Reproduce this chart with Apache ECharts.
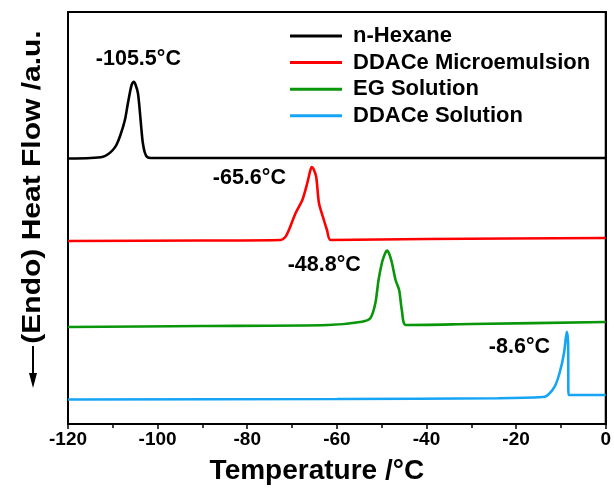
<!DOCTYPE html>
<html>
<head>
<meta charset="utf-8">
<script src="https://cdn.jsdelivr.net/npm/echarts@6/dist/echarts.min.js"></script>
<style>
html,body{margin:0;padding:0;background:#fff;}
#chart{width:614px;height:492px;}
</style>
</head>
<body>
<div id="chart"></div>
<script>
// ---- data (temperature °C, heat flow a.u.) ----
var seriesNames = ['n-Hexane', 'DDACe Microemulsion', 'EG Solution', 'DDACe Solution'];
var peakLabels = ['-105.5°C', '-65.6°C', '-48.8°C', '-8.6°C'];

var hexaneT = [-120, -115, -112.2, -111, -110, -109.2, -108.3, -107.3, -106.7, -106.2, -105.8, -105.3, -104.9, -104.4, -104.1, -103.8, -103.5, -103.3, -102.9, -102.4, -101.5, -80, -40, 0];
var hexaneH = [265.5, 266, 267.3, 270, 274, 279, 289, 304, 319, 331, 339, 342.3, 339, 331, 319, 304, 289, 281, 272, 267.3, 266, 266, 266, 266];

var microT = [-120, -90, -72.5, -71.5, -70.7, -69.2, -67.7, -66.6, -65.9, -65.6, -65.2, -64.6, -64.0, -62.9, -62.2, -61.4, -40, 0];
var microH = [183, 183.5, 184, 187, 194, 211, 224, 241, 254, 257, 255, 247, 221, 204, 194, 184, 185, 186];

var egT = [-120, -90, -62, -54.4, -52.5, -51.4, -50.7, -49.9, -49.2, -48.8, -48.3, -47.7, -46.9, -46.1, -45.5, -44.6, -30, 0];
var egH = [97, 98, 99, 102.3, 106, 121, 144, 162, 171, 173.5, 170, 161, 144, 134, 114, 99, 100, 102];

var ddaceT = [-120, -60, -24, -14, -12.9, -11.4, -10.3, -9.3, -8.7, -8.4, -8.3, -6, 0];
var ddaceH = [24.5, 25, 25.7, 27, 29, 37.3, 51, 71, 92.3, 81, 29, 29, 29];

var tickValues = [-120, -100, -80, -60, -40, -20, 0];

// ---- style ----
var colors = ['#000000', '#ff0000', '#0a960a', '#16a4f5'];
var labelOffsets = [[4.5, -22.7], [-62.4, 11], [-62.8, 14.5], [-47.3, 15.8]];
var FONT = '"Liberation Sans", Arial, sans-serif';

function pairs(t, h) { return t.map(function (v, i) { return [v, h[i]]; }); }
function peakOf(t, h) {
  var k = 0;
  for (var i = 1; i < h.length; i++) if (h[i] > h[k]) k = i;
  return [t[k], h[k]];
}

var allT = [hexaneT, microT, egT, ddaceT];
var allH = [hexaneH, microH, egH, ddaceH];

var series = seriesNames.map(function (name, i) {
  return {
    name: name,
    type: 'line',
    data: pairs(allT[i], allH[i]),
    showSymbol: false,
    symbol: 'none',
    smooth: 0.25,
    lineStyle: { width: 2.6, color: colors[i] },
    itemStyle: { color: colors[i] },
    animation: false,
    markPoint: {
      symbol: 'circle',
      symbolSize: 1,
      itemStyle: { color: 'rgba(0,0,0,0)' },
      label: {
        show: true,
        position: 'inside',
        offset: labelOffsets[i],
        formatter: peakLabels[i],
        color: '#000',
        fontFamily: FONT,
        fontWeight: 'bold',
        fontSize: 21.5
      },
      data: [{ coord: peakOf(allT[i], allH[i]) }]
    }
  };
});

var chart = echarts.init(document.getElementById('chart'), null, { renderer: 'canvas' });
chart.setOption({
  backgroundColor: '#fff',
  animation: false,
  grid: {
    left: 68, right: 6, top: 12, bottom: 68,
    show: true, borderColor: '#000', borderWidth: 2, backgroundColor: 'transparent'
  },
  legend: {
    orient: 'vertical',
    left: 290,
    top: 25,
    padding: 0,
    itemWidth: 52,
    itemHeight: 3,
    itemGap: 4.6,
    itemTextGap: 14,
    icon: 'rect',
    data: seriesNames,
    textStyle: { fontFamily: FONT, fontWeight: 'bold', fontSize: 22, color: '#000', padding: [0, 0, 0, 6] }
  },
  xAxis: {
    type: 'value',
    min: -120, max: 0, interval: 20,
    name: 'Temperature /°C',
    nameLocation: 'middle',
    nameGap: 33,
    nameTextStyle: { fontFamily: FONT, fontWeight: 'bold', fontSize: 28, color: '#000', padding: [0, 40, 0, 0] },
    axisLine: { show: true, lineStyle: { color: '#000', width: 2 } },
    axisTick: { show: true, inside: false, length: 5, lineStyle: { color: '#000', width: 1.5 } },
    minorTick: { show: true, splitNumber: 2, length: 4, lineStyle: { color: '#000', width: 1.5 } },
    axisLabel: {
      margin: 6,
      fontFamily: FONT, fontWeight: 'bold', fontSize: 19, color: '#000',
      formatter: function (v) { return tickValues.indexOf(v) >= 0 ? String(v) : ''; }
    },
    splitLine: { show: false }
  },
  yAxis: {
    type: 'value',
    min: 0, max: 412,
    axisLine: { show: true, lineStyle: { color: '#000', width: 2 } },
    axisTick: { show: false },
    axisLabel: { show: false },
    splitLine: { show: false }
  },
  graphic: [
    {
      type: 'text',
      x: 33, y: 187,
      rotation: Math.PI / 2,
      scaleX: 1.2,
      style: {
        text: '(Endo) Heat Flow /a.u.',
        fontFamily: FONT, fontWeight: 'bold', fontSize: 25, fill: '#000',
        align: 'center', verticalAlign: 'middle'
      }
    },
    {
      type: 'line',
      shape: { x1: 33, y1: 346, x2: 33, y2: 380 },
      style: { stroke: '#000', lineWidth: 2 }
    },
    {
      type: 'polygon',
      shape: { points: [[29, 373], [37, 373], [33, 388]] },
      style: { fill: '#000' }
    }
  ],
  series: series
});
</script>
</body>
</html>
